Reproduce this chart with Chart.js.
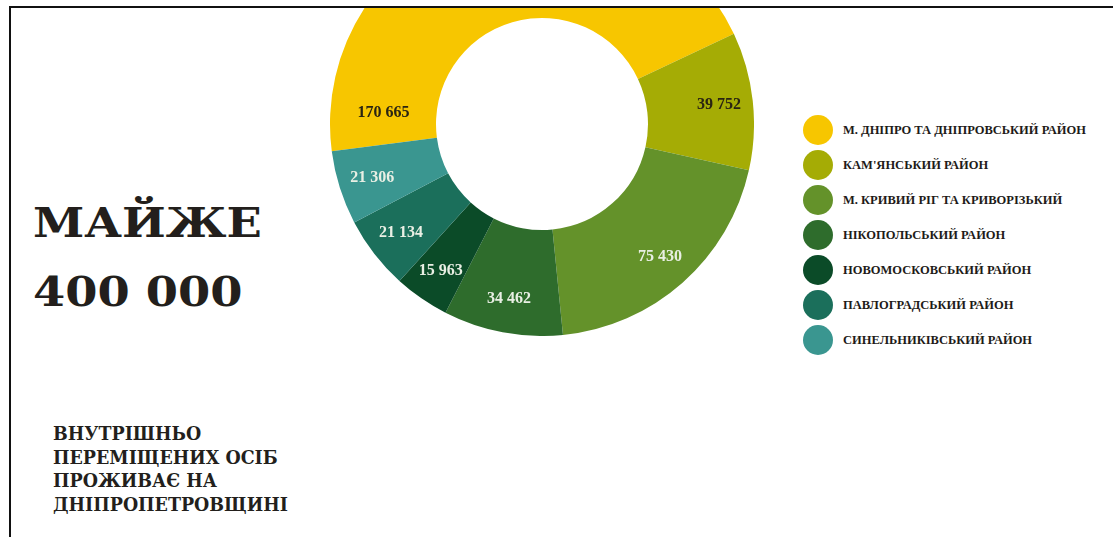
<!DOCTYPE html>
<html>
<head>
<meta charset="utf-8">
<script src="https://cdn.jsdelivr.net/npm/chart.js@4/dist/chart.umd.min.js"></script>
<style>
  html, body { margin: 0; padding: 0; background: #fff; }
  body { width: 1113px; height: 537px; position: relative; overflow: hidden; font-family: "DejaVu Serif", serif; }
  #frame { position: absolute; left: 9px; top: 6px; width: 1200px; height: 600px; border-left: 2px solid #111; border-top: 2px solid #111; }
  #clip { position: absolute; left: 11px; top: 8px; right: 0; bottom: 0; overflow: hidden; }
  #wrap { position: absolute; left: 319px; top: -96px; width: 424px; height: 424px; }
  #headline { position: absolute; left: 33px; top: 189px; font-weight: bold; font-size: 41px; line-height: 69px; color: #231f1c; white-space: nowrap; transform-origin: 0 0; transform: scaleX(1.13); }
  #sub { position: absolute; left: 53px; top: 422px; font-weight: bold; font-size: 19px; line-height: 23.5px; color: #231f1c; white-space: nowrap; transform-origin: 0 0; transform: scaleX(0.92); }
  #legend { position: absolute; left: 803px; top: 115px; }
  .item { position: absolute; left: 0; height: 30px; white-space: nowrap; }
  .dot { position: absolute; left: 0; top: 0; width: 30px; height: 30px; border-radius: 50%; }
  .lbl { position: absolute; left: 40px; top: 8px; font-family: "Liberation Serif", serif; font-weight: bold; font-size: 12.5px; color: #1e1b18; }
</style>
</head>
<body>
<div id="frame"></div>
<div id="clip"><div id="wrap"><canvas id="c"></canvas></div></div>
<div id="headline">МАЙЖЕ<br>400 000</div>
<div id="sub">ВНУТРІШНЬО<br>ПЕРЕМІЩЕНИХ ОСІБ<br>ПРОЖИВАЄ НА<br>ДНІПРОПЕТРОВЩИНІ</div>
<div id="legend"></div>
<script>
const categories = [
  "М. ДНІПРО ТА ДНІПРОВСЬКИЙ РАЙОН",
  "КАМ'ЯНСЬКИЙ РАЙОН",
  "М. КРИВИЙ РІГ ТА КРИВОРІЗЬКИЙ",
  "НІКОПОЛЬСЬКИЙ РАЙОН",
  "НОВОМОСКОВСЬКИЙ РАЙОН",
  "ПАВЛОГРАДСЬКИЙ РАЙОН",
  "СИНЕЛЬНИКІВСЬКИЙ РАЙОН"
];
const values = [170665, 39752, 75430, 34462, 15963, 21134, 21306];
const colors = ["#F7C600", "#A5AC05", "#64922A", "#2E6C2C", "#0B4B28", "#1B6F5B", "#3A9690"];
const labelColors = ["#2a2412", "#2a2412", "#e9efe4", "#e9efe4", "#e9efe4", "#e9efe4", "#e9efe4"];

function fmt(v) { return String(v).replace(/\B(?=(\d{3})+(?!\d))/g, " "); }

// HTML legend built from the arrays
const legend = document.getElementById("legend");
categories.forEach((name, i) => {
  const it = document.createElement("div");
  it.className = "item";
  it.style.top = (i * 35) + "px";
  it.innerHTML = '<div class="dot" style="background:' + colors[i] + '"></div><div class="lbl">' + name + '</div>';
  legend.appendChild(it);
});

const valueLabels = {
  id: "valueLabels",
  afterDatasetsDraw(chart) {
    const ctx = chart.ctx;
    const meta = chart.getDatasetMeta(0);
    const visibleTop = -document.getElementById("wrap").offsetTop;
    ctx.save();
    ctx.font = "bold 16px 'Liberation Serif', serif";
    ctx.textAlign = "center";
    ctx.textBaseline = "middle";
    meta.data.forEach((arc, i) => {
      const p = arc.getProps(["x", "y", "startAngle", "endAngle", "innerRadius", "outerRadius"], true);
      let r = p.innerRadius + (p.outerRadius - p.innerRadius) * 0.68;
      let a = (p.startAngle + p.endAngle) / 2;
      let y = p.y + r * Math.sin(a);
      if (y < visibleTop + 40) {
        r = p.innerRadius + (p.outerRadius - p.innerRadius) * 0.5;
        a = p.startAngle + (p.endAngle - p.startAngle) * 0.07;
        y = p.y + r * Math.sin(a);
      }
      const x = p.x + r * Math.cos(a);
      ctx.fillStyle = labelColors[i];
      ctx.fillText(fmt(values[i]), x, y);
    });
    ctx.restore();
  }
};

new Chart(document.getElementById("c"), {
  type: "doughnut",
  data: {
    labels: categories,
    datasets: [{
      data: values,
      backgroundColor: colors,
      borderWidth: 0,
      hoverOffset: 0,
      offset: 0
    }]
  },
  options: {
    responsive: true,
    maintainAspectRatio: false,
    animation: false,
    cutout: "50%",
    rotation: -97.4,
    layout: { padding: 0 },
    plugins: { legend: { display: false }, tooltip: { enabled: false } },
    events: []
  },
  plugins: [valueLabels]
});
</script>
</body>
</html>
